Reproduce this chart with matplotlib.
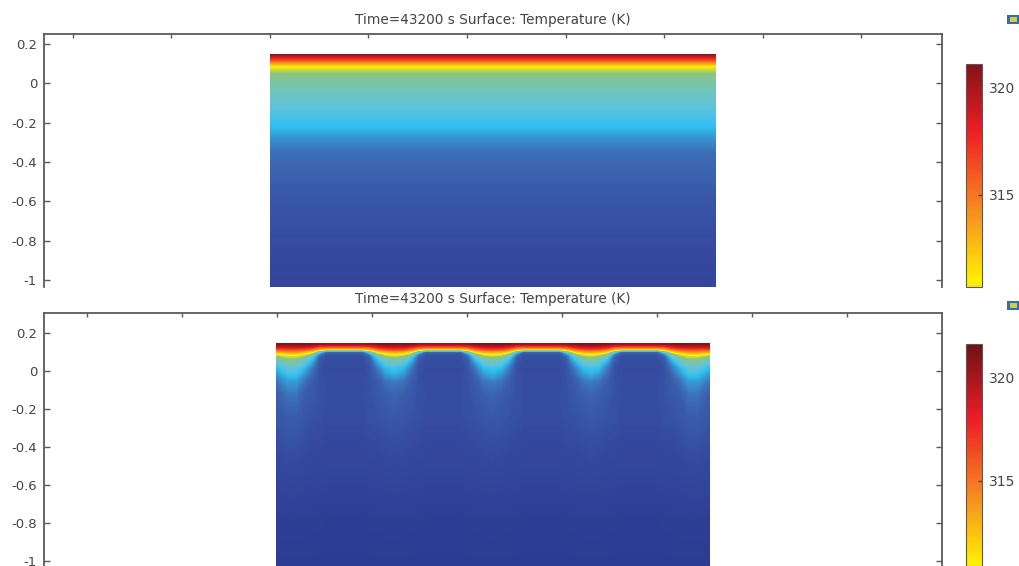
import matplotlib
matplotlib.use('Agg')
import matplotlib.pyplot as plt
from matplotlib.cm import ScalarMappable
from matplotlib.colors import LinearSegmentedColormap, Normalize
from matplotlib.patches import Rectangle

# Colour scale, temperature (K) and colour
cmap_temps = [295, 298, 300, 303.5, 305, 307, 309, 311, 314, 318, 321.6]
cmap_colors = ['#28368e', '#34489e', '#3d68b2', '#2fbff0', '#5fc3dc', '#74c6b0',
               '#8fc47a', '#fff000', '#f7941e', '#ee1c25', '#6e1216']

# Top panel: flat layers, one temperature per depth
top_x = [-1.0, 1.264]
top_y = [0.149, 0.129, 0.109, 0.084, 0.043, -0.018, -0.12, -0.22, -0.286, -0.35, -0.59, -1.04]
top_temp = [321, 318.2, 315, 311, 308.5, 307, 305, 303.5, 301.5, 300.3, 298.9, 297.6]

# Bottom panel: depths and the temperature profile for each kind of column
bottom_y = [0.143, 0.127, 0.112, 0.101, 0.091, 0.081, 0.065, 0.044, 0.018, -0.013, -0.055,
            -0.122, -0.252, -0.512, -0.771, -1.03]
dome = [320.5, 316, 311, 300, 298.8, 298.5, 298.4, 298.3, 298.2, 298.2, 298.3, 298.4, 298.3, 297.6, 296.3, 296]
edge = [320.5, 316.5, 312, 307, 302, 300, 299.2, 298.9, 298.7, 298.6, 298.6, 298.6, 298.5, 297.7, 296.4, 296]
shoulder = [321, 318, 314.5, 311.5, 309, 306.5, 304, 302.3, 300.8, 300, 299.3, 299, 298.6, 297.7, 296.4, 296]
mid = [321, 319, 315.7, 313, 311, 309.3, 307.3, 305.3, 303.4, 302, 300.4, 299.4, 298.8, 297.8, 296.5, 296]
dip = [321, 319, 316, 313.5, 311.5, 310, 308, 306, 304.2, 303, 300.8, 299.8, 298.9, 297.9, 296.5, 296]
end_dip = [321, 319, 316, 314, 312, 310.5, 308.8, 307, 305.3, 304, 302, 300.5, 299.2, 298, 296.5, 296]

column_x = [-1.0, -0.942, -0.9, -0.858, -0.816, -0.779, -0.742, -0.645, -0.547, -0.511, -0.468,
            -0.426, -0.382, -0.337, -0.295, -0.258, -0.221, -0.129, -0.032, 0.005, 0.047, 0.089,
            0.134, 0.179, 0.221, 0.258, 0.295, 0.389, 0.489, 0.526, 0.568, 0.611, 0.653, 0.695,
            0.737, 0.774, 0.811, 0.911, 1.005, 1.042, 1.084, 1.126, 1.168, 1.211, 1.274]
column_kind = [mid, end_dip, end_dip, mid, shoulder, edge, dome, dome, dome, edge, shoulder,
               mid, dip, mid, shoulder, edge, dome, dome, dome, edge, shoulder, mid,
               dip, mid, shoulder, edge, dome, dome, dome, edge, shoulder, mid, dip, mid,
               shoulder, edge, dome, dome, dome, edge, shoulder, mid, end_dip, end_dip, mid]

y_ticks = [0.2, 0, -0.2, -0.4, -0.6, -0.8, -1]
y_labels = ['0.2', '0', '-0.2', '-0.4', '-0.6', '-0.8', '-1']
x_ticks = [-2, -1.5, -1, -0.5, 0, 0.5, 1, 1.5, 2]
bar_ticks = [315, 320]
title = 'Time=43200 s Surface: Temperature (K)'

W, H = 1019, 566
line_color = '#5a5a5a'
text_color = '#444444'

cmap = LinearSegmentedColormap.from_list(
    'comsol', [((t - cmap_temps[0]) / (cmap_temps[-1] - cmap_temps[0]), c)
               for t, c in zip(cmap_temps, cmap_colors)], N=512)
norm = Normalize(cmap_temps[0], cmap_temps[-1])
levels = [295 + 0.1 * i for i in range(270)]


def px_axes(left, top, right, bottom):
    # axes placed by pixel position in the picture
    return fig.add_axes([left / W, 1 - bottom / H, (right - left) / W, (bottom - top) / H])


def style_panel(ax, xlim, ylim, title_pad):
    ax.set_xlim(xlim)
    ax.set_ylim(ylim)
    ax.set_xticks(x_ticks)
    ax.set_yticks(y_ticks)
    ax.set_yticklabels(y_labels)
    ax.tick_params(axis='x', direction='in', top=True, bottom=False, labelbottom=False,
                   length=3, width=1, color=line_color)
    ax.tick_params(axis='y', direction='in', left=True, right=True, length=4, width=1,
                   color=line_color, labelsize=9.5, labelcolor=text_color, pad=5)
    ax.spines['bottom'].set_visible(False)
    for side in ['top', 'left', 'right']:
        ax.spines[side].set_color(line_color)
        ax.spines[side].set_linewidth(1.3)
    ax.set_title(title, fontsize=9.85, color=text_color, pad=title_pad)


def add_colorbar(top, bottom, lim):
    # each bar gets its own norm, otherwise the second one resets the first
    cax = px_axes(966, top, 982, bottom)
    cb = fig.colorbar(ScalarMappable(norm=Normalize(cmap_temps[0], cmap_temps[-1]), cmap=cmap), cax=cax)
    cb.set_ticks(bar_ticks)
    cb.ax.set_ylim(lim)
    cb.ax.tick_params(length=3, width=1, color='#8a2a20', direction='in',
                      labelsize=10, labelcolor=text_color, pad=5)
    cb.outline.set_edgecolor(line_color)
    cb.outline.set_linewidth(0.8)


def add_icon(x, y):
    # small toolbar icon at the right edge
    fig.add_artist(Rectangle((x / W, 1 - (y + 9) / H), 12 / W, 9 / H, transform=fig.transFigure,
                             facecolor='#2f6fb0', edgecolor='none'))
    fig.add_artist(Rectangle(((x + 3) / W, 1 - (y + 7) / H), 7 / W, 5 / H, transform=fig.transFigure,
                             facecolor='#d8c84a', edgecolor='none'))


fig = plt.figure(figsize=(W / 100, H / 100), dpi=100)

# Top panel
ax1 = px_axes(44, 34, 942, 287)
top_z = [[t, t] for t in top_temp]
ax1.contourf(top_x, top_y, top_z, levels=levels, cmap=cmap, norm=norm, antialiased=False)
style_panel(ax1, (-2.147, 2.411), (-1.035, 0.251), 7)
add_colorbar(64, 287, (310.7, 321.07))
add_icon(1007, 15)

# Bottom panel
ax2 = px_axes(44, 313, 942, 566)
bottom_z = [[col[i] for col in column_kind] for i in range(len(bottom_y))]
ax2.contourf(column_x, bottom_y, bottom_z, levels=levels, cmap=cmap, norm=norm, antialiased=False)
style_panel(ax2, (-2.226, 2.5), (-1.026, 0.305), 7)
add_colorbar(344, 566, (310.9, 321.6))
add_icon(1007, 301)

fig.savefig('out.png', dpi=100)
